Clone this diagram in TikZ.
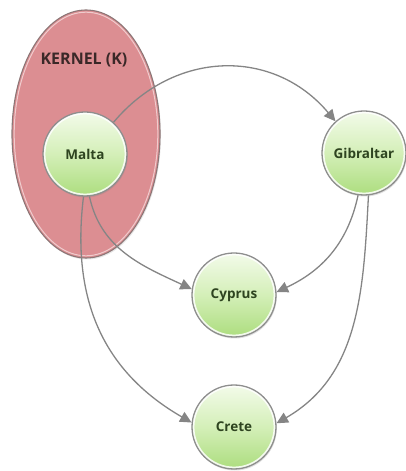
\documentclass[tikz,border=0pt]{standalone}
\usepackage{fontspec}
\setmainfont{Open Sans}
\usetikzlibrary{arrows.meta,shapes.geometric,shadows}

\definecolor{kernelfill}{HTML}{DC8E92}
\definecolor{kernelline}{HTML}{8C7676}
\definecolor{kerneltext}{HTML}{3A2828}
\definecolor{edgegray}{HTML}{858585}
\definecolor{nodetop}{HTML}{F3FBEA}
\definecolor{nodemid}{HTML}{D4EFB8}
\definecolor{nodebot}{HTML}{ACDD7E}
\definecolor{nodetext}{HTML}{2E4420}
\definecolor{nodering}{HTML}{8E8E8E}

\begin{document}
\begin{tikzpicture}[x=1pt,y=1pt,
  island/.style={circle, minimum size=84pt, inner sep=0pt,
    draw=nodering, line width=1.3pt,
    top color=nodetop, bottom color=nodebot, middle color=nodemid,
    font=\bfseries\fontsize{13.5}{15}\selectfont, text=nodetext,
    drop shadow={opacity=0.25, shadow xshift=0.8pt, shadow yshift=-1.5pt},
    path picture={\draw[white, line width=2pt, opacity=0.85]
      (path picture bounding box.center) circle[radius=40.6pt];}},
  kernelset/.style={ellipse, minimum width=148pt, minimum height=248pt,
    inner sep=0pt, draw=kernelline, line width=1.1pt, fill=kernelfill,
    drop shadow={opacity=0.2, shadow xshift=1pt, shadow yshift=-1.5pt}},
  link/.style={draw=edgegray, line width=1.3pt,
    -{Triangle[length=11.5pt,width=11pt]}},
]
\useasboundingbox (0,0) rectangle (406,471);

% kernel region
\node[kernelset] (kernel) at (86,337) {};
\draw[white, opacity=0.55, line width=1pt] (86,337) ellipse[x radius=71.8pt, y radius=121.8pt];
\node[font=\bfseries\fontsize{16}{18}\selectfont, text=kerneltext] (klabel) at (84,411) {KERNEL (K)};

% islands
\node[island] (malta) at (85,317) {Malta};
\node[island] (gib)   at (364,318) {Gibraltar};
\node[island] (cyp)   at (234,176) {Cyprus};
\node[island] (cre)   at (234,44) {Crete};

% dependencies
\draw[link] (malta.48) to[out=50,in=130,looseness=1.1] (gib.132);
\draw[link] (malta.-84) to[out=-78,in=155] (cyp.172);
\draw[link] (malta.-92) to[out=-97,in=150,looseness=1.05] (cre.174);
\draw[link] (gib.-98) to[out=-102,in=25] (cyp.4);
\draw[link] (gib.-84) to[out=-93,in=30] (cre.5);
\end{tikzpicture}
\end{document}
